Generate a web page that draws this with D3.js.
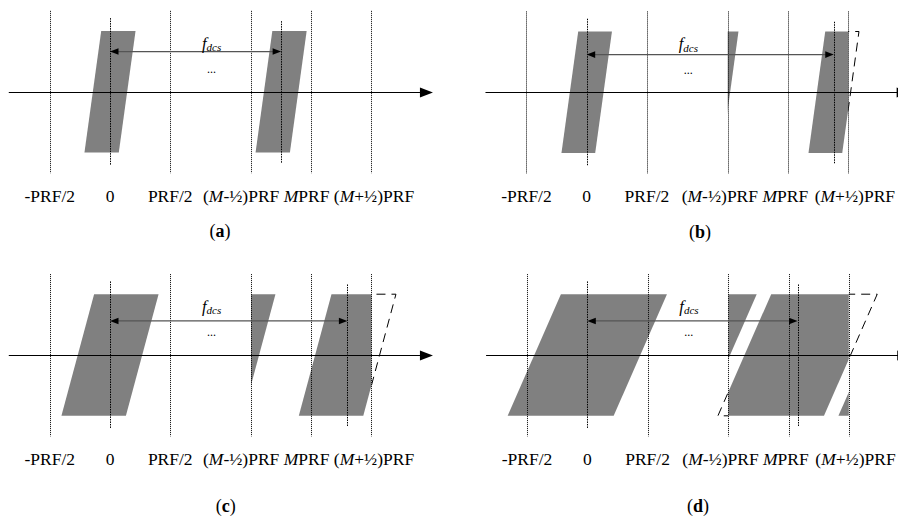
<!DOCTYPE html>
<html>
<head>
<meta charset="utf-8">
<script src="https://cdn.jsdelivr.net/npm/d3@7"></script>
<style>
  html, body { margin: 0; padding: 0; background: #fff; }
  svg { display: block; }
  text { font-family: "Liberation Serif", "Times New Roman", serif; fill: #000; }
</style>
</head>
<body>
<svg id="chart" width="898" height="522"></svg>
<script>
// ---------------- data ----------------
// Frequency axis in units of PRF. M is symbolic; it is placed at a schematic display position.
const M = 1.67;
const tickPositions = [-0.5, 0, 0.5, M - 0.5, M, M + 0.5];
const tickLabels = ["-PRF/2", "0", "PRF/2", "(M-½)PRF", "MPRF", "(M+½)PRF"];
const panelNames = ["a", "b", "c", "d"];
// Doppler bandwidth of each spectrum (PRF units)
const bandwidths = [0.285, 0.28, 0.535, 0.88];
// Doppler drift across the swath (top edge minus bottom edge, PRF units)
const skews = [0.139, 0.139, 0.271, 0.442];
// Doppler centroid f_dcs (PRF units, schematic)
const fdcs = [1.42, 2.05, 1.97, 1.745];

// ---------------- layout ----------------
const layout = [
  { dx: 0,     dy: 0,     arrowY: 0.66, capX: 220,   capY: 237, grpStart: 203, lastStart: null },
  { dx: 476.7, dy: 0.6,   arrowY: 0.62, capX: 223.3, capY: 237, grpStart: 205, lastStart: 338 },
  { dx: 0,     dy: 263.3, arrowY: 0.56, capX: 225.8, capY: 249, grpStart: 203, lastStart: null },
  { dx: 477.3, dy: 263.3, arrowY: 0.56, capX: 220.7, capY: 249, grpStart: 205, lastStart: 338 }
];

const svg = d3.select("#chart");
const defs = svg.append("defs");
const GRAY = "#808080";
const crisp = (v, off) => Math.round(v + off) - off + 0.5; // pixel-aligned in absolute coords

panelNames.forEach((name, i) => {
  const L = layout[i];
  const x = d3.scaleLinear().domain([-0.5, 0.5]).range([49.75, 170.25]);
  const axisY = 91.7;
  const y = d3.scaleLinear().domain([-1, 1]).range([axisY + 60.8, axisY - 60.8]);

  const lo = x(M - 0.5), hi = x(M + 0.5);
  const inId = "clipIn" + name, outId = "clipOut" + name;
  defs.append("clipPath").attr("id", inId).attr("clipPathUnits", "userSpaceOnUse")
    .append("rect").attr("x", lo + L.dx).attr("y", 0).attr("width", hi - lo).attr("height", 522);
  const co = defs.append("clipPath").attr("id", outId).attr("clipPathUnits", "userSpaceOnUse");
  co.append("rect").attr("x", -10).attr("y", 0).attr("width", lo + L.dx + 10).attr("height", 522);
  co.append("rect").attr("x", hi + L.dx).attr("y", 0).attr("width", 1000).attr("height", 522);

  const w = bandwidths[i], s = skews[i];
  const para = fc => [
    [x(fc - w / 2 + s / 2), y(1)],
    [x(fc + w / 2 + s / 2), y(1)],
    [x(fc + w / 2 - s / 2), y(-1)],
    [x(fc - w / 2 - s / 2), y(-1)]
  ];
  const line = d3.line();
  const closed = pts => line(pts) + "Z";

  const g = svg.append("g").attr("transform", `translate(${L.dx},${L.dy})`);
  const gAbs = svg.append("g");
  const gIn = gAbs.append("g").attr("clip-path", `url(#${inId})`)
    .append("g").attr("transform", `translate(${L.dx},${L.dy})`);
  const gOut = gAbs.append("g").attr("clip-path", `url(#${outId})`)
    .append("g").attr("transform", `translate(${L.dx},${L.dy})`);

  // baseband spectrum
  g.append("path").attr("d", closed(para(0))).attr("fill", GRAY);
  // spectrum at f_dcs, folded into [(M-1/2)PRF, (M+1/2)PRF]
  [fdcs[i], fdcs[i] - 1, fdcs[i] + 1].forEach(fc => {
    gIn.append("path").attr("d", closed(para(fc))).attr("fill", GRAY);
  });
  // dashed outline of the parts lying outside the band
  gOut.append("path").attr("d", closed(para(fdcs[i])))
    .attr("fill", "none").attr("stroke", "#000").attr("stroke-width", 1)
    .attr("stroke-dasharray", "9,6");

  const top = svg.append("g").attr("transform", `translate(${L.dx},${L.dy})`);
  const vline = (xv, y1, y2, dash) => {
    const xc = crisp(xv, L.dx);
    top.append("line").attr("x1", xc).attr("x2", xc)
      .attr("y1", y1).attr("y2", y2)
      .attr("stroke", "#000").attr("stroke-width", 1).attr("stroke-dasharray", dash);
  };
  // dotted tick lines (except 0)
  tickPositions.forEach(t => {
    if (t === 0) return;
    vline(x(t), y(1.33), y(-1.34), "1,1");
  });
  // zero line and f_dcs line
  vline(x(0), y(1.21), y(-1.21), "1.5,1");
  vline(x(fdcs[i]), y(1.16), y(-1.17), "1.5,1");

  // frequency axis with arrow
  const ax0 = x(-0.84), ax1 = x(2.68);
  const ayc = crisp(axisY, L.dy);
  top.append("line").attr("x1", ax0).attr("x2", ax1 - 10).attr("y1", ayc).attr("y2", ayc)
    .attr("stroke", "#000").attr("stroke-width", 1.2);
  top.append("path").attr("d", closed([[ax1, ayc], [ax1 - 13, ayc - 5], [ax1 - 13, ayc + 5]]))
    .attr("fill", "#000");

  // double arrow between 0 and f_dcs
  const ay = y(L.arrowY), a0 = x(0), a1 = x(fdcs[i]);
  top.append("line").attr("x1", a0 + 6).attr("x2", a1 - 6).attr("y1", ay).attr("y2", ay)
    .attr("stroke", "#555").attr("stroke-width", 1.3);
  top.append("path").attr("d", closed([[a0, ay], [a0 + 8.5, ay - 3.3], [a0 + 8.5, ay + 3.3]])).attr("fill", "#000");
  top.append("path").attr("d", closed([[a1, ay], [a1 - 8.5, ay - 3.3], [a1 - 8.5, ay + 3.3]])).attr("fill", "#000");

  // f_dcs label
  const fl = top.append("text").attr("x", 202).attr("y", 48.5).attr("font-size", 16.5);
  fl.append("tspan").attr("font-style", "italic").text("f");
  fl.append("tspan").attr("font-style", "italic").attr("font-size", 11).attr("dy", 2.5).text("dcs");
  // ellipsis
  top.append("text").attr("x", 211.5).attr("y", 73).attr("text-anchor", "middle")
    .attr("font-size", 12).text("...");

  // tick labels
  const labY = 201.5, fs = 17.5;
  [0, 1, 2].forEach(k => {
    top.append("text").attr("x", x(tickPositions[k])).attr("y", labY)
      .attr("text-anchor", "middle").attr("font-size", fs).text(tickLabels[k]);
  });
  const addLabel = (sel, k) => {
    const lab = tickLabels[k];
    const mi = lab.indexOf("M");
    sel.append("tspan").text(lab.slice(0, mi));
    sel.append("tspan").attr("font-style", "italic").text("M");
    sel.append("tspan").text(lab.slice(mi + 1));
  };
  const grp = top.append("text").attr("x", L.grpStart).attr("y", labY).attr("font-size", fs)
    .attr("xml:space", "preserve");
  addLabel(grp, 3);
  grp.append("tspan").text(" ");
  addLabel(grp, 4);
  if (L.lastStart === null) {
    grp.append("tspan").text(" ");
    addLabel(grp, 5);
  } else {
    const last = top.append("text").attr("x", L.lastStart).attr("y", labY).attr("font-size", fs);
    addLabel(last, 5);
  }

  // caption
  const cap = top.append("text").attr("x", L.capX).attr("y", L.capY).attr("text-anchor", "middle")
    .attr("font-size", 18);
  cap.append("tspan").text("(");
  cap.append("tspan").attr("font-weight", "bold").text(name);
  cap.append("tspan").text(")");
});
</script>
</body>
</html>
